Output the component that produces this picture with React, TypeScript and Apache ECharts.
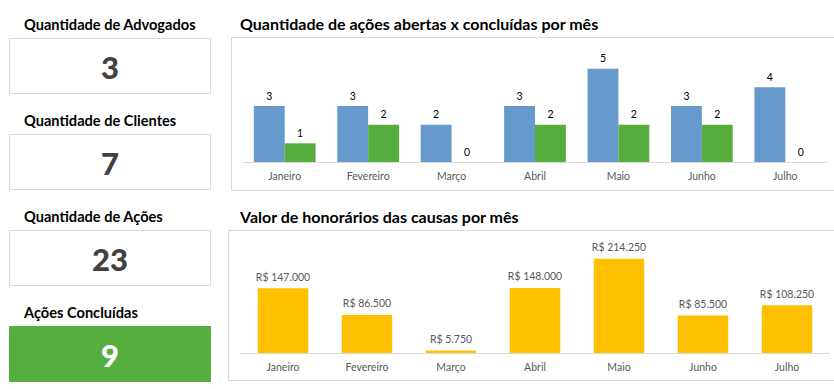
import React, { useEffect, useRef } from "react";
import * as echarts from "echarts";

const months = ["Janeiro", "Fevereiro", "Março", "Abril", "Maio", "Junho", "Julho"];
const abertas = [3, 3, 2, 3, 5, 3, 4];
const concluidas = [1, 2, 0, 2, 2, 2, 0];
const honorarios = [147000, 86500, 5750, 148000, 214250, 85500, 108250];

const kpiTitles = ["Quantidade de Advogados", "Quantidade de Clientes", "Quantidade de Ações", "Ações Concluídas"];
const kpiValues = ["3", "7", "23", "9"];

const FONT = "Lato, 'Noto Sans', sans-serif";

function fmtBRL(v: number): string {
  return "R$ " + v.toString().replace(/\B(?=(\d{3})+(?!\d))/g, ".");
}

export default function App() {
  const ref = useRef<HTMLDivElement>(null);
  useEffect(() => {
    if (!ref.current) return;
    const chart = echarts.init(ref.current, undefined, { renderer: "svg" });

    const boxTops = [38, 134, 230, 326];
    const titleCenters = [24, 120, 216, 312];
    const graphics: any[] = [];
    kpiTitles.forEach((t, i) => {
      const green = i === 3;
      graphics.push({
        type: "rect",
        shape: { x: 9.5, y: boxTops[i] + 0.5, width: 201, height: 55 },
        style: { fill: green ? "#55AE3E" : "#fff", stroke: green ? "#55AE3E" : "#D9D9D9", lineWidth: 1 },
      });
      graphics.push({
        type: "text",
        x: 24,
        y: titleCenters[i],
        style: { text: t, font: `bold 14.6px ${FONT}`, fill: "#000", textVerticalAlign: "middle", textAlign: "left" },
      });
      graphics.push({
        type: "text",
        x: 110,
        y: boxTops[i] + 29,
        style: {
          text: kpiValues[i],
          font: `900 31px ${FONT}`,
          fill: green ? "#fff" : "#404040",
          textAlign: "center",
          textVerticalAlign: "middle",
        },
      });
    });
    graphics.push({
      type: "rect",
      shape: { x: 231.5, y: 37.5, width: 640, height: 153 },
      style: { fill: "none", stroke: "#D9D9D9", lineWidth: 1 },
    });
    graphics.push({
      type: "rect",
      shape: { x: 228.5, y: 230.5, width: 640, height: 150 },
      style: { fill: "none", stroke: "#D9D9D9", lineWidth: 1 },
    });
    graphics.push({
      type: "text",
      x: 240,
      y: 23,
      style: { text: "Quantidade de ações abertas x concluídas por mês", font: `bold 16px ${FONT}`, fill: "#000", textVerticalAlign: "middle" },
    });
    graphics.push({
      type: "text",
      x: 240,
      y: 216,
      style: { text: "Valor de honorários das causas por mês", font: `bold 16px ${FONT}`, fill: "#000", textVerticalAlign: "middle" },
    });

    const catAxisCommon = {
      type: "category",
      axisTick: { show: false },
      axisLine: { lineStyle: { color: "#D9D9D9", width: 1 } },
      axisLabel: { color: "#595959", fontSize: 10.5, fontFamily: FONT, margin: 8 },
    };

    chart.setOption({
      animation: false,
      backgroundColor: "#fff",
      graphic: graphics,
      grid: [
        { left: 243, top: 50, width: 584, height: 112 },
        { left: 241, top: 243, width: 588, height: 110 },
      ],
      xAxis: [
        { ...catAxisCommon, gridIndex: 0, data: months },
        { ...catAxisCommon, gridIndex: 1, data: months },
      ],
      yAxis: [
        { type: "value", gridIndex: 0, min: 0, max: 6, show: false, splitLine: { show: false } },
        { type: "value", gridIndex: 1, min: 0, max: 250000, show: false, splitLine: { show: false } },
      ],
      series: [
        {
          type: "bar",
          name: "Abertas",
          xAxisIndex: 0,
          yAxisIndex: 0,
          data: abertas,
          itemStyle: { color: "#6699CC" },
          barGap: "0%",
          barCategoryGap: "26%",
          label: { show: true, position: "top", distance: 5, color: "#000", fontSize: 10.5, fontFamily: FONT },
        },
        {
          type: "bar",
          name: "Concluídas",
          xAxisIndex: 0,
          yAxisIndex: 0,
          data: concluidas,
          itemStyle: { color: "#55AE3E" },
          barGap: "0%",
          barCategoryGap: "26%",
          label: { show: true, position: "top", distance: 5, color: "#000", fontSize: 10.5, fontFamily: FONT },
        },
        {
          type: "bar",
          name: "Honorários",
          xAxisIndex: 1,
          yAxisIndex: 1,
          data: honorarios,
          itemStyle: { color: "#FFC000" },
          barCategoryGap: "40%",
          label: {
            show: true,
            position: "top",
            distance: 6,
            color: "#595959",
            fontSize: 10.5,
            fontFamily: FONT,
            formatter: (p: any) => fmtBRL(p.value),
          },
        },
      ],
    });
    return () => chart.dispose();
  }, []);
  return <div ref={ref} style={{ position: "fixed", left: 0, top: 0, width: 834, height: 389, background: "#fff" }} />;
}
